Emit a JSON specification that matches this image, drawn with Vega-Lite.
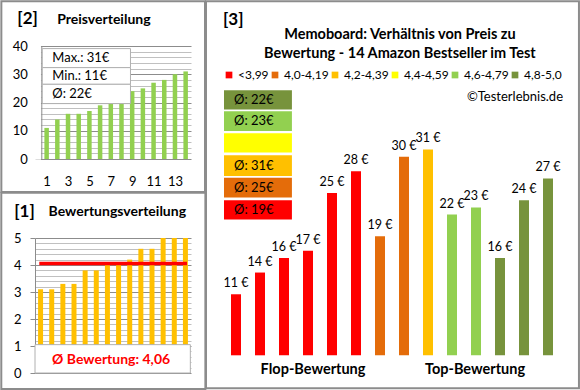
{
  "$schema": "https://vega.github.io/schema/vega-lite/v6.json",
  "padding": 0,
  "background": "white",
  "config": {
    "font": "Lato",
    "view": {"stroke": null},
    "axis": {"labelFont": "Lato", "labelColor": "#000000"},
    "text": {"font": "Lato", "color": "#000000"},
    "legend": {"labelFont": "Lato"}
  },
  "datasets": {
    "prices": [
      {"n": 1, "price": 11}, {"n": 2, "price": 14}, {"n": 3, "price": 16}, {"n": 4, "price": 16},
      {"n": 5, "price": 17}, {"n": 6, "price": 19}, {"n": 7, "price": 22}, {"n": 8, "price": 23},
      {"n": 9, "price": 24}, {"n": 10, "price": 25}, {"n": 11, "price": 27}, {"n": 12, "price": 28},
      {"n": 13, "price": 30}, {"n": 14, "price": 31}
    ],
    "ratings": [
      {"n": 1, "rating": 3.1}, {"n": 2, "rating": 3.1}, {"n": 3, "rating": 3.3}, {"n": 4, "rating": 3.3},
      {"n": 5, "rating": 3.8}, {"n": 6, "rating": 3.8}, {"n": 7, "rating": 4.0}, {"n": 8, "rating": 4.0},
      {"n": 9, "rating": 4.2}, {"n": 10, "rating": 4.6}, {"n": 11, "rating": 4.6}, {"n": 12, "rating": 5.0},
      {"n": 13, "rating": 5.0}, {"n": 14, "rating": 5.0}
    ],
    "products": [
      {"n": 1, "price": 11, "label": "11 €", "cat": "<3,99"},
      {"n": 2, "price": 14, "label": "14 €", "cat": "<3,99"},
      {"n": 3, "price": 16, "label": "16 €", "cat": "<3,99"},
      {"n": 4, "price": 17, "label": "17 €", "cat": "<3,99"},
      {"n": 5, "price": 25, "label": "25 €", "cat": "<3,99"},
      {"n": 6, "price": 28, "label": "28 €", "cat": "<3,99"},
      {"n": 7, "price": 19, "label": "19 €", "cat": "4,0-4,19"},
      {"n": 8, "price": 30, "label": "30 €", "cat": "4,0-4,19"},
      {"n": 9, "price": 31, "label": "31 €", "cat": "4,2-4,39"},
      {"n": 10, "price": 22, "label": "22 €", "cat": "4,6-4,79"},
      {"n": 11, "price": 23, "label": "23 €", "cat": "4,6-4,79"},
      {"n": 12, "price": 16, "label": "16 €", "cat": "4,8-5,0"},
      {"n": 13, "price": 24, "label": "24 €", "cat": "4,8-5,0"},
      {"n": 14, "price": 27, "label": "27 €", "cat": "4,8-5,0"}
    ]
  },
  "spacing": -2,
  "resolve": {"scale": {"color": "independent"}, "legend": {"color": "independent"}},
  "hconcat": [
    {
      "spacing": -2,
      "vconcat": [
        {
          "width": 156,
          "height": 113,
          "resolve": {"axis": {"x": "independent", "y": "independent"}},
          "layer": [
            {
              "data": {"name": "prices"},
              "mark": {"type": "bar", "size": 4.5, "color": "#92D050"},
              "encoding": {
                "x": {
                  "field": "n", "type": "quantitative",
                  "scale": {"domain": [-0.088, 14.5], "nice": false, "zero": false, "padding": 0},
                  "axis": {"values": [1, 3, 5, 7, 9, 11, 13], "title": null, "grid": false, "ticks": false, "domain": false,
                           "labelPadding": 16, "labelFontSize": 13, "labelFlush": false, "labelOverlap": false}
                },
                "y": {
                  "field": "price", "type": "quantitative",
                  "scale": {"domain": [0, 40], "nice": false, "zero": true},
                  "axis": {
                    "values": [0, 2, 4, 6, 8, 10, 12, 14, 16, 18, 20, 22, 24, 26, 28, 30, 32, 34, 36, 38, 40],
                    "title": null, "ticks": false, "domain": true, "domainColor": "#8c8c8c", "offset": -6.3,
                    "labelPadding": 14, "labelFontSize": 13, "labelOverlap": false,
                    "labelExpr": "datum.value % 10 === 0 ? datum.label : ''",
                    "grid": true,
                    "gridColor": {"condition": {"test": "datum.value % 10 === 0", "value": "#8c8c8c"}, "value": "#c0c0c0"},
                    "gridOpacity": 1
                  }
                }
              }
            },
            {
              "data": {"values": [{}]},
              "mark": {"type": "rect", "fill": "white", "strokeWidth": 0},
              "encoding": {"x": {"datum": -0.1, "axis": null}, "x2": {"datum": 0.47}, "y": {"datum": -0.25, "axis": null}, "y2": {"datum": 40.25}}
            },
            {
              "data": {"values": [{}]},
              "mark": {"type": "rect", "fill": "white", "stroke": "#b0b0b0", "strokeWidth": 1},
              "encoding": {"x": {"datum": 0.59, "axis": null}, "x2": {"datum": 8.84}, "y": {"datum": 32.35, "axis": null}, "y2": {"datum": 39.08}}
            },
            {
              "data": {"values": [{}]},
              "mark": {"type": "rect", "fill": "white", "stroke": "#b0b0b0", "strokeWidth": 1},
              "encoding": {"x": {"datum": 0.59, "axis": null}, "x2": {"datum": 8.84}, "y": {"datum": 26.44, "axis": null}, "y2": {"datum": 32.35}}
            },
            {
              "data": {"values": [{}]},
              "mark": {"type": "rect", "fill": "white", "stroke": "#b0b0b0", "strokeWidth": 1},
              "encoding": {"x": {"datum": 0.59, "axis": null}, "x2": {"datum": 8.84}, "y": {"datum": 19.61, "axis": null}, "y2": {"datum": 26.44}}
            },
            {
              "data": {"values": [{}]},
              "mark": {"type": "text", "align": "left", "baseline": "middle", "fontSize": 13, "text": "Max.: 31€"},
              "encoding": {"x": {"datum": 1.53, "axis": null}, "y": {"datum": 35.65, "axis": null}}
            },
            {
              "data": {"values": [{}]},
              "mark": {"type": "text", "align": "left", "baseline": "middle", "fontSize": 13, "text": "Min.: 11€"},
              "encoding": {"x": {"datum": 1.53, "axis": null}, "y": {"datum": 29.45, "axis": null}}
            },
            {
              "data": {"values": [{}]},
              "mark": {"type": "text", "align": "left", "baseline": "middle", "fontSize": 13, "text": "Ø: 22€"},
              "encoding": {"x": {"datum": 1.53, "axis": null}, "y": {"datum": 23.08, "axis": null}}
            },
            {
              "data": {"values": [{}]},
              "mark": {"type": "text", "align": "left", "baseline": "middle", "fontSize": 17, "fontWeight": "bold", "text": "[2]"},
              "encoding": {"x": {"datum": -1.74, "axis": null}, "y": {"datum": 49.45, "axis": null}}
            },
            {
              "data": {"values": [{}]},
              "mark": {"type": "text", "align": "left", "baseline": "middle", "fontSize": 14, "fontWeight": "bold", "text": "Preisverteilung"},
              "encoding": {"x": {"datum": 1.99, "axis": null}, "y": {"datum": 49.1, "axis": null}}
            },
            {
              "data": {"values": [{}]},
              "mark": {"type": "rect", "fill": "transparent", "stroke": "#8c8c8c", "strokeWidth": 2},
              "encoding": {
                "x": {"datum": -3.235, "axis": null},
                "x2": {"datum": 15.81},
                "y": {"datum": -11.68, "axis": null},
                "y2": {"datum": 55.82}
              }
            }
          ]
        },
        {
          "width": 156,
          "height": 135,
          "resolve": {"axis": {"x": "independent", "y": "independent"}},
          "layer": [
            {
              "data": {"name": "ratings"},
              "mark": {"type": "bar", "size": 5, "color": "#FFC000"},
              "encoding": {
                "x": {
                  "field": "n", "type": "quantitative",
                  "scale": {"domain": [0.5, 14.5], "nice": false, "zero": false, "padding": 0},
                  "axis": null
                },
                "y": {
                  "field": "rating", "type": "quantitative",
                  "scale": {"domain": [0, 5], "nice": false, "zero": true},
                  "axis": {
                    "values": [0, 0.2, 0.4, 0.6, 0.8, 1, 1.2, 1.4, 1.6, 1.8, 2, 2.2, 2.4, 2.6, 2.8, 3, 3.2, 3.4, 3.6, 3.8, 4, 4.2, 4.4, 4.6, 4.8, 5],
                    "title": null, "domain": true, "domainColor": "#8c8c8c",
                    "ticks": true, "tickSize": 5, "tickColor": "#8c8c8c",
                    "tickOpacity": {"condition": {"test": "abs(datum.value - round(datum.value)) < 0.001", "value": 1}, "value": 0},
                    "labelPadding": 9, "labelFontSize": 13, "labelOverlap": false,
                    "labelExpr": "abs(datum.value - round(datum.value)) < 0.001 ? '' + round(datum.value) : ''",
                    "grid": true,
                    "gridColor": {"condition": {"test": "abs(datum.value - round(datum.value)) < 0.001", "value": "#8c8c8c"}, "value": "#c0c0c0"},
                    "gridOpacity": 1
                  }
                }
              }
            },
            {
              "data": {"values": [{}]},
              "mark": {"type": "rule", "color": "#FF0000", "strokeWidth": 3.5},
              "encoding": {"x": {"datum": 0.886, "axis": null}, "x2": {"datum": 14.14}, "y": {"datum": 4.06, "axis": null}}
            },
            {
              "data": {"values": [{}]},
              "mark": {"type": "rect", "fill": "white", "stroke": "#b0b0b0", "strokeWidth": 1},
              "encoding": {"x": {"datum": 0.5, "axis": null}, "x2": {"datum": 14.44}, "y": {"datum": 0, "axis": null}, "y2": {"datum": 1.05}}
            },
            {
              "data": {"values": [{}]},
              "mark": {"type": "text", "align": "center", "baseline": "middle", "fontSize": 14, "fontWeight": "bold", "color": "#FF0000", "text": "Ø Bewertung: 4,06"},
              "encoding": {"x": {"datum": 7.33, "axis": null}, "y": {"datum": 0.48, "axis": null}}
            },
            {
              "data": {"values": [{}]},
              "mark": {"type": "text", "align": "left", "baseline": "middle", "fontSize": 17, "fontWeight": "bold", "text": "[1]"},
              "encoding": {"x": {"datum": -1.36, "axis": null}, "y": {"datum": 5.97, "axis": null}}
            },
            {
              "data": {"values": [{}]},
              "mark": {"type": "text", "align": "left", "baseline": "middle", "fontSize": 14, "fontWeight": "bold", "text": "Bewertungsverteilung"},
              "encoding": {"x": {"datum": 1.72, "axis": null}, "y": {"datum": 5.97, "axis": null}}
            },
            {
              "data": {"values": [{}]},
              "mark": {"type": "rect", "fill": "transparent", "stroke": "#8c8c8c", "strokeWidth": 2},
              "encoding": {
                "x": {"datum": -2.525, "axis": null},
                "x2": {"datum": 15.79},
                "y": {"datum": -0.593, "axis": null},
                "y2": {"datum": 6.678}
              }
            }
          ]
        }
      ]
    },
    {
      "width": 336,
      "height": 309.3,
      "layer": [
        {
          "data": {"name": "products"},
          "mark": {"type": "bar", "size": 10},
          "encoding": {
            "x": {"field": "n", "type": "quantitative", "scale": {"domain": [0.5, 14.5], "nice": false, "zero": false, "padding": 0}, "axis": null},
            "y": {"field": "price", "type": "quantitative", "scale": {"domain": [2.57, 45.29], "nice": false, "zero": false}, "axis": null},
            "y2": {"datum": 2.57},
            "color": {
              "field": "cat", "type": "nominal",
              "scale": {
                "domain": ["<3,99", "4,0-4,19", "4,2-4,39", "4,4-4,59", "4,6-4,79", "4,8-5,0"],
                "range": ["#FF0000", "#E46C0A", "#FFC000", "#FFFF00", "#92D050", "#77933C"]
              },
              "legend": {
                "orient": "none", "legendX": -1, "legendY": 23, "direction": "horizontal", "title": null,
                "symbolType": "square", "symbolSize": 45, "symbolStrokeWidth": 0, "symbolOpacity": 1,
                "labelFontSize": 12, "labelOffset": 3, "columnPadding": 0, "gridAlign": "none", "padding": 0, "labelColor": "#000000"
              }
            }
          }
        },
        {
          "data": {"name": "products"},
          "mark": {"type": "text", "align": "center", "baseline": "bottom", "dy": -4, "fontSize": 12.5},
          "encoding": {
            "x": {"field": "n", "type": "quantitative", "axis": null},
            "y": {"field": "price", "type": "quantitative", "axis": null},
            "text": {"field": "label"}
          }
        },
        {
          "data": {"values": [{}]},
          "mark": {"type": "rect"},
          "encoding": {"x": {"datum": 0.5, "axis": null}, "x2": {"datum": 3.33}, "y": {"datum": 36.51, "axis": null}, "y2": {"datum": 39.17}, "color": {"datum": "4,8-5,0", "legend": null}}
        },
        {
          "data": {"values": [{}]},
          "mark": {"type": "rect"},
          "encoding": {"x": {"datum": 0.5, "axis": null}, "x2": {"datum": 3.33}, "y": {"datum": 33.55, "axis": null}, "y2": {"datum": 36.27}, "color": {"datum": "4,6-4,79", "legend": null}}
        },
        {
          "data": {"values": [{}]},
          "mark": {"type": "rect"},
          "encoding": {"x": {"datum": 0.5, "axis": null}, "x2": {"datum": 3.33}, "y": {"datum": 30.57, "axis": null}, "y2": {"datum": 33.24}, "color": {"datum": "4,4-4,59", "legend": null}}
        },
        {
          "data": {"values": [{}]},
          "mark": {"type": "rect"},
          "encoding": {"x": {"datum": 0.5, "axis": null}, "x2": {"datum": 3.33}, "y": {"datum": 27.34, "axis": null}, "y2": {"datum": 30.19}, "color": {"datum": "4,2-4,39", "legend": null}}
        },
        {
          "data": {"values": [{}]},
          "mark": {"type": "rect"},
          "encoding": {"x": {"datum": 0.5, "axis": null}, "x2": {"datum": 3.33}, "y": {"datum": 24.35, "axis": null}, "y2": {"datum": 27.11}, "color": {"datum": "4,0-4,19", "legend": null}}
        },
        {
          "data": {"values": [{}]},
          "mark": {"type": "rect"},
          "encoding": {"x": {"datum": 0.5, "axis": null}, "x2": {"datum": 3.33}, "y": {"datum": 21.31, "axis": null}, "y2": {"datum": 23.98}, "color": {"datum": "<3,99", "legend": null}}
        },
        {
          "data": {"values": [{}]},
          "mark": {"type": "text", "align": "left", "baseline": "middle", "fontSize": 13, "text": "Ø: 22€"},
          "encoding": {"x": {"datum": 0.917, "axis": null}, "y": {"datum": 37.83, "axis": null}}
        },
        {
          "data": {"values": [{}]},
          "mark": {"type": "text", "align": "left", "baseline": "middle", "fontSize": 13, "text": "Ø: 23€"},
          "encoding": {"x": {"datum": 0.917, "axis": null}, "y": {"datum": 34.91, "axis": null}}
        },
        {
          "data": {"values": [{}]},
          "mark": {"type": "text", "align": "left", "baseline": "middle", "fontSize": 13, "text": "Ø: 31€"},
          "encoding": {"x": {"datum": 0.917, "axis": null}, "y": {"datum": 28.76, "axis": null}}
        },
        {
          "data": {"values": [{}]},
          "mark": {"type": "text", "align": "left", "baseline": "middle", "fontSize": 13, "text": "Ø: 25€"},
          "encoding": {"x": {"datum": 0.917, "axis": null}, "y": {"datum": 25.73, "axis": null}}
        },
        {
          "data": {"values": [{}]},
          "mark": {"type": "text", "align": "left", "baseline": "middle", "fontSize": 13, "text": "Ø: 19€"},
          "encoding": {"x": {"datum": 0.917, "axis": null}, "y": {"datum": 22.65, "axis": null}}
        },
        {
          "data": {"values": [{}]},
          "mark": {"type": "text", "align": "left", "baseline": "middle", "fontSize": 17, "fontWeight": "bold", "text": "[3]"},
          "encoding": {"x": {"datum": 0.46, "axis": null}, "y": {"datum": 48.91, "axis": null}}
        },
        {
          "data": {"values": [{}]},
          "mark": {"type": "text", "align": "center", "baseline": "middle", "fontSize": 14.5, "fontWeight": "bold", "lineHeight": 19,
                   "text": ["Memoboard: Verhältnis von Preis zu", "Bewertung - 14 Amazon Bestseller im Test"]},
          "encoding": {"x": {"datum": 7.83, "axis": null}, "y": {"datum": 46.77, "axis": null}}
        },
        {
          "data": {"values": [{}]},
          "mark": {"type": "text", "align": "right", "baseline": "middle", "fontSize": 13, "text": "©Testerlebnis.de"},
          "encoding": {"x": {"datum": 14.625, "axis": null}, "y": {"datum": 38.21, "axis": null}}
        },
        {
          "data": {"values": [{}]},
          "mark": {"type": "text", "align": "center", "baseline": "middle", "fontSize": 14.5, "fontWeight": "bold", "text": "Flop-Bewertung"},
          "encoding": {"x": {"datum": 4.21, "axis": null}, "y": {"datum": 0.5, "axis": null}}
        },
        {
          "data": {"values": [{}]},
          "mark": {"type": "text", "align": "center", "baseline": "middle", "fontSize": 14.5, "fontWeight": "bold", "text": "Top-Bewertung"},
          "encoding": {"x": {"datum": 10.96, "axis": null}, "y": {"datum": 0.5, "axis": null}}
        },
        {
          "data": {"values": [{}]},
          "mark": {"type": "rect", "fill": "transparent", "stroke": "#8c8c8c", "strokeWidth": 2},
          "encoding": {
            "x": {"datum": -0.25, "axis": null},
            "x2": {"datum": 15.29},
            "y": {"datum": -1.99, "axis": null},
            "y2": {"datum": 51.46}
          }
        }
      ]
    }
  ]
}
